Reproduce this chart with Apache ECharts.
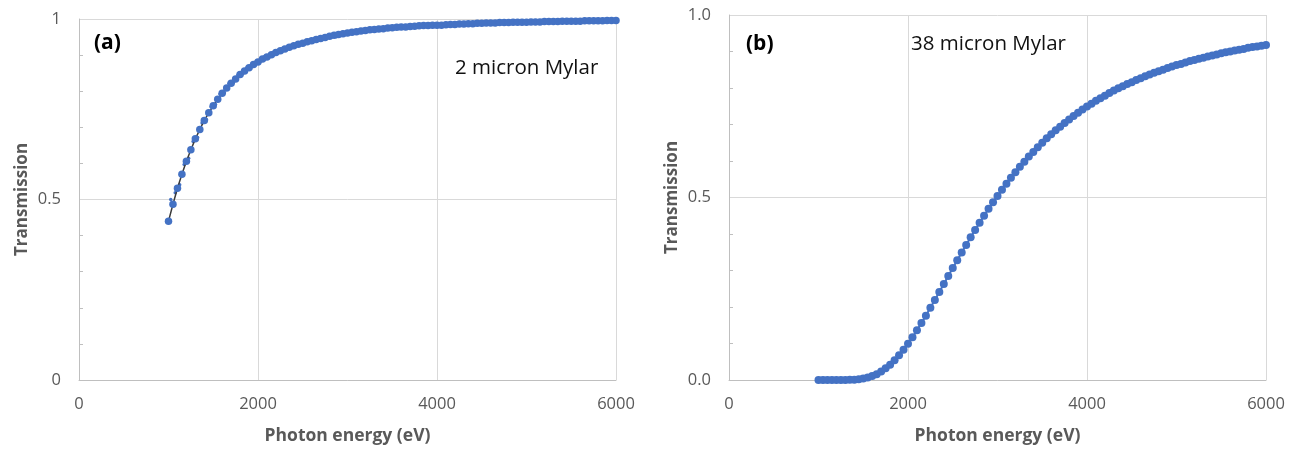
<!DOCTYPE html>
<html>
<head>
<meta charset="utf-8">
<title>Mylar transmission</title>
<script src="https://cdn.jsdelivr.net/npm/echarts@6/dist/echarts.min.js"></script>
<style>
  html, body { margin: 0; padding: 0; background: #ffffff; }
  #chart { width: 1298px; height: 450px; }
</style>
</head>
<body>
<div id="chart"></div>
<script>
// Photon energies (eV) shared by both filters
const photonEnergy = [
  1000, 1050, 1100, 1150, 1200, 1250, 1300, 1350, 1400, 1450,
  1500, 1550, 1600, 1650, 1700, 1750, 1800, 1850, 1900, 1950,
  2000, 2050, 2100, 2150, 2200, 2250, 2300, 2350, 2400, 2450,
  2500, 2550, 2600, 2650, 2700, 2750, 2800, 2850, 2900, 2950,
  3000, 3050, 3100, 3150, 3200, 3250, 3300, 3350, 3400, 3450,
  3500, 3550, 3600, 3650, 3700, 3750, 3800, 3850, 3900, 3950,
  4000, 4050, 4100, 4150, 4200, 4250, 4300, 4350, 4400, 4450,
  4500, 4550, 4600, 4650, 4700, 4750, 4800, 4850, 4900, 4950,
  5000, 5050, 5100, 5150, 5200, 5250, 5300, 5350, 5400, 5450,
  5500, 5550, 5600, 5650, 5700, 5750, 5800, 5850, 5900, 5950,
  6000
];

// Transmission of a 2 micron Mylar foil
const transmission2um = [
  0.440, 0.487, 0.531, 0.570, 0.606, 0.638, 0.668, 0.694, 0.719, 0.740,
  0.760, 0.778, 0.794, 0.809, 0.822, 0.834, 0.846, 0.856, 0.865, 0.874,
  0.881, 0.889, 0.895, 0.901, 0.907, 0.912, 0.917, 0.922, 0.926, 0.930,
  0.933, 0.937, 0.940, 0.943, 0.946, 0.949, 0.952, 0.955, 0.957, 0.959,
  0.961, 0.963, 0.965, 0.967, 0.968, 0.970, 0.971, 0.972, 0.973, 0.975,
  0.976, 0.977, 0.978, 0.978, 0.979, 0.980, 0.981, 0.982, 0.982, 0.983,
  0.983, 0.983, 0.984, 0.985, 0.985, 0.986, 0.986, 0.987, 0.987, 0.988,
  0.988, 0.989, 0.989, 0.989, 0.990, 0.990, 0.990, 0.991, 0.991, 0.991,
  0.991, 0.992, 0.992, 0.992, 0.993, 0.993, 0.993, 0.993, 0.994, 0.994,
  0.994, 0.994, 0.994, 0.995, 0.995, 0.995, 0.995, 0.995, 0.996, 0.996,
  0.996
];

// Second, finer calculation for the 2 micron foil (small markers)
const photonEnergyFine = [
  1025, 1075, 1125, 1175, 1225, 1275, 1325, 1375, 1425, 1475,
  1525, 1575, 1625, 1675, 1725, 1775, 1825, 1875, 1925, 1975,
  2025, 2075, 2125, 2175, 2225, 2275, 2325, 2375, 2425, 2475,
  2575, 2675, 2775, 2875, 2975, 3175, 3375, 3575, 3775, 3975,
  4275, 4575, 4875, 5175, 5475, 5775
];
const transmission2umFine = [
  0.500, 0.519, 0.541, 0.597, 0.614, 0.661, 0.672, 0.712, 0.721, 0.757,
  0.763, 0.792, 0.796, 0.821, 0.824, 0.845, 0.847, 0.865, 0.866, 0.881,
  0.882, 0.896, 0.895, 0.908, 0.907, 0.918, 0.917, 0.927, 0.925, 0.934,
  0.941, 0.942, 0.953, 0.951, 0.962, 0.963, 0.975, 0.974, 0.981, 0.979,
  0.988, 0.986, 0.992, 0.990, 0.995, 0.993
];

// Transmission of a 38 micron Mylar foil
const transmission38um = [
  0.000, 0.000, 0.000, 0.000, 0.000, 0.000, 0.000, 0.001, 0.001, 0.002,
  0.004, 0.007, 0.011, 0.016, 0.023, 0.032, 0.042, 0.054, 0.068, 0.083,
  0.099, 0.117, 0.136, 0.156, 0.176, 0.198, 0.219, 0.241, 0.263, 0.285,
  0.307, 0.328, 0.349, 0.370, 0.391, 0.411, 0.431, 0.450, 0.469, 0.487,
  0.504, 0.521, 0.538, 0.554, 0.569, 0.584, 0.598, 0.612, 0.625, 0.638,
  0.650, 0.662, 0.673, 0.684, 0.694, 0.704, 0.714, 0.723, 0.732, 0.741,
  0.749, 0.757, 0.765, 0.772, 0.779, 0.786, 0.793, 0.799, 0.805, 0.811,
  0.816, 0.822, 0.827, 0.832, 0.837, 0.842, 0.846, 0.850, 0.855, 0.859,
  0.863, 0.866, 0.870, 0.874, 0.877, 0.880, 0.883, 0.886, 0.889, 0.892,
  0.895, 0.898, 0.900, 0.903, 0.905, 0.907, 0.910, 0.912, 0.914, 0.916,
  0.918
];

const xTicks = [0, 2000, 4000, 6000];
const panelLabels = ['(a)', '(b)'];
const foilLabels = ['2 micron Mylar', '38 micron Mylar'];
const xTitle = 'Photon energy (eV)';
const yTitle = 'Transmission';

const FONT = '"Open Sans", Lato, sans-serif';
const BLUE = '#4472c4';
const AXIS_GREY = '#595959';
const GRID_GREY = '#d9d9d9';

function pairs(xs, ys) {
  return xs.map((x, i) => [x, ys[i]]);
}

function makeXAxis(gridIndex) {
  return {
    type: 'value', gridIndex,
    min: xTicks[0], max: xTicks[xTicks.length - 1], interval: xTicks[1] - xTicks[0],
    axisLine: { show: true, lineStyle: { color: '#bfbfbf', width: 1 } },
    axisTick: { show: false },
    axisLabel: { color: AXIS_GREY, fontSize: 16.5, fontFamily: FONT, margin: 16, formatter: v => String(v) },
    splitLine: { show: true, lineStyle: { color: GRID_GREY, width: 1 } },
    name: xTitle, nameLocation: 'middle', nameGap: 47,
    nameTextStyle: { color: AXIS_GREY, fontSize: 17.5, fontWeight: 'bold', fontFamily: FONT }
  };
}

function makeYAxis(gridIndex, fmt) {
  return {
    type: 'value', gridIndex,
    min: 0, max: 1, interval: 0.5,
    axisLine: { show: true, lineStyle: { color: '#bfbfbf', width: 1 } },
    axisTick: { show: false, inside: true },
    minorTick: { show: true, splitNumber: 5, length: 4, lineStyle: { color: '#bfbfbf' } },
    axisLabel: { color: AXIS_GREY, fontSize: 16.5, fontFamily: FONT, margin: 18, formatter: fmt },
    splitLine: { show: true, lineStyle: { color: GRID_GREY, width: 1 } },
    name: yTitle, nameLocation: 'middle', nameGap: 48,
    nameTextStyle: { color: AXIS_GREY, fontSize: 17, fontWeight: 'bold', fontFamily: FONT }
  };
}

const chart = echarts.init(document.getElementById('chart'), null, { renderer: 'canvas' });

chart.setOption({
  animation: false,
  backgroundColor: '#ffffff',
  grid: [
    { left: 79, top: 19, width: 537, height: 361 },
    { left: 729, top: 15, width: 537, height: 365 }
  ],
  xAxis: [makeXAxis(0), makeXAxis(1)],
  yAxis: [
    makeYAxis(0, v => String(v)),
    makeYAxis(1, v => v.toFixed(1))
  ],
  series: [
    {
      type: 'line', xAxisIndex: 0, yAxisIndex: 0,
      data: pairs(photonEnergyFine, transmission2umFine),
      symbol: 'circle', symbolSize: 3.5, showAllSymbol: true,
      lineStyle: { width: 0, opacity: 0 },
      itemStyle: { color: BLUE, borderWidth: 0 },
      z: 2
    },
    {
      type: 'line', xAxisIndex: 0, yAxisIndex: 0,
      data: pairs(photonEnergy, transmission2um),
      symbol: 'circle', symbolSize: 7.5, showAllSymbol: true,
      lineStyle: { color: '#3b3b3b', width: 1.5 },
      itemStyle: { color: BLUE, borderWidth: 0 },
      z: 3
    },
    {
      type: 'line', xAxisIndex: 1, yAxisIndex: 1,
      data: pairs(photonEnergy, transmission38um),
      symbol: 'circle', symbolSize: 8, showAllSymbol: true,
      lineStyle: { color: BLUE, width: 2 },
      itemStyle: { color: BLUE, borderWidth: 0 },
      z: 3
    }
  ],
  graphic: [
    { type: 'text', left: 94, top: 33, style: { text: panelLabels[0], fill: '#000', font: 'bold 21px ' + FONT } },
    { type: 'text', left: 455, top: 58, style: { text: foilLabels[0], fill: '#111', font: '20.5px ' + FONT } },
    { type: 'text', left: 746, top: 34, style: { text: panelLabels[1], fill: '#000', font: 'bold 21px ' + FONT } },
    { type: 'text', left: 911, top: 34, style: { text: foilLabels[1], fill: '#111', font: '20.5px ' + FONT } }
  ]
});
</script>
</body>
</html>
